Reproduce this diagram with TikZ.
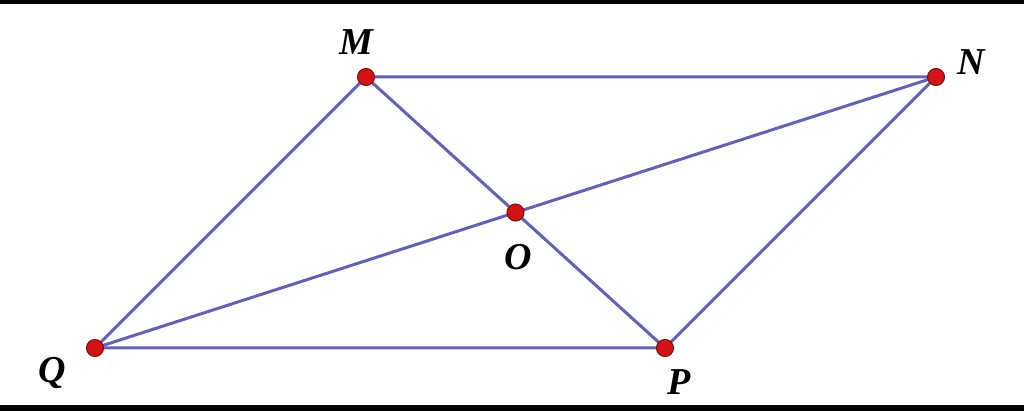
\documentclass[tikz,border=0pt]{standalone}
\usepackage{fontspec}
\setmainfont{Liberation Serif}
\begin{document}
\begin{tikzpicture}[x=0.5pt,y=-0.5pt,
  seg/.style={draw={rgb,255:red,98;green,98;blue,178},line width=1.5pt},
  pt/.style={circle,fill={rgb,255:red,210;green,20;blue,20},draw={rgb,255:red,120;green,10;blue,10},line width=0.5pt,inner sep=0pt,minimum size=8.5pt},
  lab/.style={font=\fontsize{19}{21}\selectfont\bfseries\itshape,inner sep=0pt}]
\useasboundingbox (0,0) rectangle (1024,411);
\fill[black] (0,0) rectangle (1024,4);
\fill[black] (0,405) rectangle (1024,411);
\coordinate (M) at (366,77);
\coordinate (N) at (936,77);
\coordinate (O) at (515.5,212.5);
\coordinate (Q) at (95,348);
\coordinate (P) at (665,348);
\draw[seg] (M) -- (N) -- (P) -- (Q) -- cycle;
\draw[seg] (M) -- (P);
\draw[seg] (Q) -- (N);
\node[pt] (m) at (M) {};
\node[pt] (n) at (N) {};
\node[pt] (o) at (O) {};
\node[pt] (q) at (Q) {};
\node[pt] (p) at (P) {};
\node[lab] (lm) at (356,42) {M};
\node[lab] (ln) at (971,62) {N};
\node[lab] (lo) at (518,257) {O};
\node[lab] (lq) at (52,373) {Q};
\node[lab] (lp) at (679,382) {P};
\end{tikzpicture}
\end{document}
